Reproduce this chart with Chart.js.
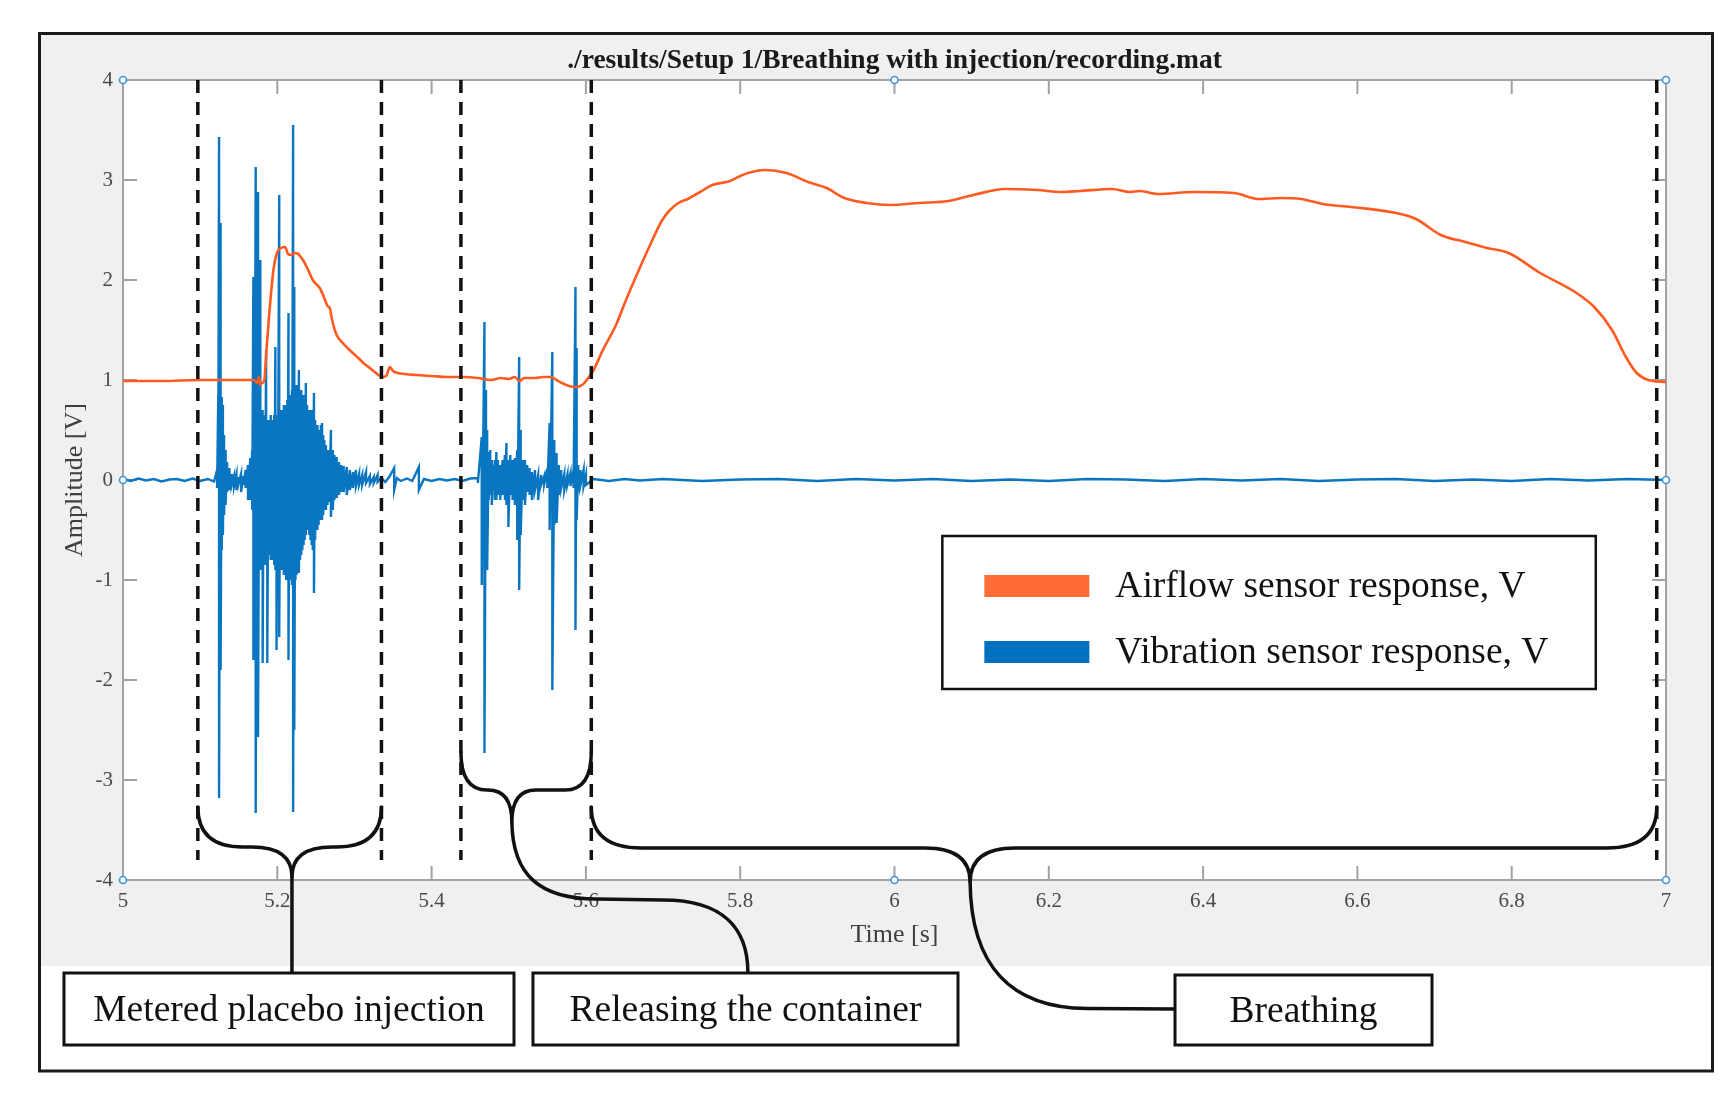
<!DOCTYPE html>
<html>
<head>
<meta charset="utf-8">
<title>recording.mat</title>
<script src="https://cdn.jsdelivr.net/npm/chart.js@4.4.1/dist/chart.umd.min.js"></script>
<style>
  html, body { margin: 0; padding: 0; background: #fff; }
  canvas { display: block; }
</style>
</head>
<body>
<canvas id="myChart" width="1735" height="1102"></canvas>
<script>
// ---- data ----
const titleText = './results/Setup 1/Breathing with injection/recording.mat';
const seriesLabels = ['Airflow sensor response, V', 'Vibration sensor response, V'];

const xTickValues = [5, 5.2, 5.4, 5.6, 5.8, 6, 6.2, 6.4, 6.6, 6.8, 7];
const xTickLabels = ['5', '5.2', '5.4', '5.6', '5.8', '6', '6.2', '6.4', '6.6', '6.8', '7'];
const yTickValues = [-4, -3, -2, -1, 0, 1, 2, 3, 4];
const yTickLabels = ['-4', '-3', '-2', '-1', '0', '1', '2', '3', '4'];

// airflow sensor (orange)
const airTime = [
  5.000, 5.050, 5.100, 5.150, 5.170, 5.174, 5.176, 5.178, 5.180, 5.183,
  5.186, 5.190, 5.195, 5.200, 5.205, 5.210, 5.214, 5.218, 5.222, 5.227,
  5.234, 5.240, 5.246, 5.255, 5.262, 5.265, 5.268, 5.271, 5.277, 5.286,
  5.295, 5.305, 5.313, 5.320, 5.328, 5.336, 5.341, 5.346, 5.350, 5.356,
  5.365, 5.380, 5.400, 5.420, 5.440, 5.460, 5.477, 5.490, 5.500, 5.508,
  5.514, 5.520, 5.534, 5.545, 5.555, 5.562, 5.569, 5.578, 5.587, 5.595,
  5.603, 5.610, 5.622, 5.639, 5.652, 5.663, 5.682, 5.699, 5.709, 5.720,
  5.732, 5.748, 5.764, 5.787, 5.800, 5.810, 5.832, 5.860, 5.888, 5.912,
  5.935, 5.964, 5.995, 6.032, 6.070, 6.102, 6.143, 6.185, 6.217, 6.240,
  6.282, 6.305, 6.317, 6.342, 6.388, 6.440, 6.472, 6.500, 6.527, 6.555,
  6.592, 6.643, 6.676, 6.708, 6.740, 6.768, 6.796, 6.837, 6.884, 6.907,
  6.930, 6.948, 6.962, 6.977, 7.000
];
const airValue = [
  0.99, 0.99, 1.00, 1.00, 1.00, 0.97, 1.03, 0.95, 0.97, 0.99,
  1.30, 1.70, 2.10, 2.28, 2.32, 2.33, 2.26, 2.25, 2.27, 2.26,
  2.19, 2.10, 2.00, 1.92, 1.80, 1.74, 1.72, 1.60, 1.45, 1.36,
  1.29, 1.22, 1.16, 1.12, 1.07, 1.03, 1.04, 1.13, 1.09, 1.07,
  1.06, 1.05, 1.04, 1.03, 1.03, 1.02, 1.00, 1.02, 1.01, 1.03,
  0.99, 1.02, 1.02, 1.03, 1.03, 1.00, 0.97, 0.94, 0.93, 0.95,
  1.02, 1.10, 1.30, 1.55, 1.80, 2.00, 2.33, 2.60, 2.70, 2.77,
  2.81, 2.88, 2.95, 2.99, 3.04, 3.07, 3.10, 3.07, 2.98, 2.92,
  2.82, 2.77, 2.75, 2.77, 2.79, 2.85, 2.91, 2.90, 2.88, 2.89,
  2.91, 2.88, 2.89, 2.86, 2.88, 2.87, 2.81, 2.82, 2.81, 2.76,
  2.73, 2.68, 2.61, 2.45, 2.38, 2.32, 2.27, 2.07, 1.87, 1.73,
  1.50, 1.23, 1.07, 1.00, 0.98
];

// vibration sensor (blue): at each time the upper and lower excursion
// (a quiet sample has the same value in both)
const vibTime = [
  5.000, 5.010, 5.020, 5.030, 5.040, 5.050, 5.060, 5.070, 5.080, 5.090, 5.100, 5.110, 5.118,
  5.122, 5.1235, 5.1245, 5.1265, 5.128, 5.1295, 5.131, 5.133, 5.135, 5.138,
  5.141, 5.144, 5.147, 5.150, 5.153, 5.156, 5.159, 5.162, 5.165, 5.1675,
  5.169, 5.1705, 5.172, 5.1735, 5.175, 5.1765, 5.178, 5.1795, 5.181, 5.1825,
  5.184, 5.1855, 5.187, 5.1885, 5.190, 5.1915, 5.193, 5.1945, 5.196, 5.1975,
  5.199, 5.2005, 5.2025, 5.204, 5.2055, 5.207, 5.2085, 5.210, 5.2115, 5.213,
  5.2145, 5.216, 5.2175, 5.219, 5.2205, 5.222, 5.2235, 5.225, 5.2265, 5.228,
  5.2295, 5.231, 5.2325, 5.234, 5.2355, 5.237, 5.2385, 5.240, 5.2415, 5.243,
  5.2445, 5.246, 5.2475, 5.249, 5.2505, 5.252, 5.2535, 5.255, 5.2565, 5.258,
  5.2595, 5.261, 5.263, 5.265, 5.267, 5.2695, 5.272, 5.274, 5.277, 5.280,
  5.283, 5.286, 5.290, 5.294, 5.298, 5.302, 5.306, 5.310, 5.315, 5.320,
  5.325, 5.330,
  5.335, 5.340, 5.345, 5.3515, 5.355, 5.360, 5.368, 5.375, 5.3835, 5.390,
  5.400, 5.410, 5.420, 5.430, 5.440, 5.450, 5.460,
  5.465, 5.4685, 5.4705, 5.472, 5.474, 5.476, 5.478, 5.480, 5.482, 5.484,
  5.486, 5.489, 5.492, 5.495, 5.497, 5.4995, 5.502, 5.505, 5.508, 5.511,
  5.5135, 5.5155, 5.518, 5.521, 5.524, 5.527, 5.530, 5.534, 5.538, 5.542,
  5.546, 5.550, 5.553, 5.5565, 5.559, 5.562, 5.565, 5.568, 5.572, 5.576,
  5.580, 5.584, 5.5865, 5.588, 5.590, 5.593, 5.597, 5.600, 5.610,
  5.630, 5.650, 5.670, 5.700, 5.750, 5.800, 5.850, 5.900, 5.950, 6.000,
  6.050, 6.100, 6.150, 6.200, 6.250, 6.300, 6.350, 6.400, 6.450, 6.500,
  6.550, 6.600, 6.650, 6.700, 6.750, 6.800, 6.850, 6.900, 6.950, 7.000
];
const vibHigh = [
  0.01, -0.01, 0.015, -0.005, 0.01, -0.015, 0.005, 0.01, -0.01, 0.015, -0.01, 0.01, -0.015,
  0.10, 0.85, 3.43, 2.57, 0.83, 0.75, 0.45, 0.30, 0.18, 0.12,
  0.06, 0.04, 0.05, 0.03, 0.06, 0.04, 0.10, 0.15, 0.22, 0.30,
  2.03, 0.60, 3.13, 0.70, 2.88, 0.60, 2.20, 0.60, 0.70, 0.60,
  0.65, 1.30, 0.60, 0.55, 0.60, 0.65, 0.60, 0.55, 0.65, 1.33,
  0.60, 0.65, 2.85, 0.70, 0.65, 0.70, 0.75, 0.70, 0.75, 0.80,
  1.67, 0.85, 0.80, 0.90, 3.55, 1.93, 0.95, 0.90, 0.95, 1.10,
  0.85, 0.90, 0.85, 0.80, 0.85, 0.97, 0.75, 0.70, 0.65, 0.70,
  0.65, 0.70, 0.87, 0.60, 0.55, 0.55, 0.50, 0.50, 0.55, 0.57,
  0.45, 0.40, 0.35, 0.30, 0.30, 0.50, 0.30, 0.25, 0.23, 0.18,
  0.15, 0.14, 0.13, 0.10, 0.08, 0.10, 0.06, 0.05, 0.08, 0.04,
  0.03, 0.05,
  0.02, -0.02, 0.03, 0.12, 0.02, -0.01, 0.015, -0.01, 0.13, 0.01,
  -0.01, 0.01, -0.005, 0.01, -0.01, 0.015, 0.02,
  0.43, 1.58, 0.90, 0.50, 0.28, 0.30, 0.20, 0.15, 0.20, 0.28,
  0.20, 0.15, 0.20, 0.25, 0.37, 0.20, 0.25, 0.20, 0.22, 0.30,
  1.23, 0.50, 0.20, 0.20, 0.15, 0.12, 0.08, 0.10, 0.05, 0.05,
  0.04, 0.10, 0.57, 1.28, 0.40, 0.27, 0.15, 0.10, 0.06, 0.05,
  0.07, 0.10, 1.93, 1.32, 0.15, 0.10, 0.10, 0.05, 0.01,
  -0.01, 0.01, -0.005, 0.01, -0.01, 0.005, 0.01, -0.01, 0.01, -0.005,
  0.01, -0.01, 0.005, -0.01, 0.01, 0.005, -0.01, 0.01, -0.005, 0.01,
  -0.01, 0.005, 0.01, -0.01, 0.005, -0.01, 0.01, -0.005, 0.01, 0.00
];
const vibLow = [
  0.01, -0.01, 0.015, -0.005, 0.01, -0.015, 0.005, 0.01, -0.01, 0.015, -0.01, 0.01, -0.015,
  -0.08, -0.05, -3.18, -1.90, -0.70, -0.55, -0.35, -0.25, -0.12, -0.10,
  -0.05, -0.06, -0.10, -0.03, -0.12, -0.05, -0.08, -0.20, -0.20, -0.30,
  -1.80, -0.70, -3.33, -0.80, -2.57, -0.70, -0.90, -0.80, -1.83, -0.80,
  -0.85, -0.70, -1.83, -0.75, -0.70, -0.80, -0.75, -0.80, -0.85, -0.90,
  -1.70, -0.85, -1.57, -0.90, -0.85, -0.90, -0.95, -0.90, -1.00, -0.95,
  -1.80, -1.00, -1.00, -1.05, -3.32, -2.50, -1.00, -0.95, -0.90, -0.93,
  -0.80, -0.75, -0.70, -0.65, -0.60, -0.55, -0.45, -0.50, -0.55, -0.60,
  -0.65, -0.70, -1.13, -0.60, -0.50, -0.50, -0.45, -0.40, -0.40, -0.40,
  -0.35, -0.30, -0.30, -0.25, -0.22, -0.37, -0.30, -0.20, -0.18, -0.15,
  -0.12, -0.12, -0.15, -0.10, -0.08, -0.06, -0.05, -0.05, -0.03, -0.04,
  -0.03, -0.02,
  0.02, -0.02, 0.03, -0.10, 0.02, -0.01, 0.015, -0.01, -0.10, 0.01,
  -0.01, 0.01, -0.005, 0.01, -0.01, 0.015, -0.03,
  -1.05, -2.73, -0.80, -0.90, -0.20, -0.15, -0.25, -0.10, -0.20, -0.20,
  -0.15, -0.20, -0.15, -0.20, -0.25, -0.47, -0.15, -0.20, -0.25, -0.60,
  -1.10, -0.55, -0.20, -0.25, -0.12, -0.15, -0.20, -0.10, -0.20, -0.05,
  -0.04, -0.08, -0.50, -2.10, -0.45, -0.43, -0.15, -0.08, -0.10, -0.05,
  -0.06, -0.08, -1.50, -0.40, -0.12, -0.05, -0.06, -0.05, 0.01,
  -0.01, 0.01, -0.005, 0.01, -0.01, 0.005, 0.01, -0.01, 0.01, -0.005,
  0.01, -0.01, 0.005, -0.01, 0.01, 0.005, -0.01, 0.01, -0.005, 0.01,
  -0.01, 0.005, 0.01, -0.01, 0.005, -0.01, 0.01, -0.005, 0.01, 0.00
];

// dashed event markers (time) and how far down they reach
const eventTimes = [5.097, 5.335, 5.438, 5.607, 6.988];
const eventTop = 4;
const eventBottom = -3.8;

// the little blue axis handles
const handleX = [5, 6, 7, 5, 7, 5, 6, 7];
const handleY = [4, 4, 4, 0, 0, -4, -4, -4];

// braces, in data units
const braces = [
  { x0: 5.097, x1: 5.335, xm: 5.219, yEnd: -3.27, yFlat: -3.67, yTip: -3.97, rEnd: 45, rMid: 40 },
  { x0: 5.438, x1: 5.607, xm: 5.504, yEnd: -2.72, yFlat: -3.10, yTip: -3.42, rEnd: 26, rMid: 24 },
  { x0: 5.607, x1: 6.988, xm: 6.098, yEnd: -3.27, yFlat: -3.68, yTip: -4.02, rEnd: 50, rMid: 45 }
];
const labelBoxes = [
  { text: 'Metered placebo injection', x0: 4.9235, x1: 5.5068, y0: -4.93, y1: -5.65 },
  { text: 'Releasing the container', x0: 5.5314, x1: 6.0823, y0: -4.93, y1: -5.65 },
  { text: 'Breathing', x0: 6.3636, x1: 6.6967, y0: -4.95, y1: -5.65 }
];
const legendBox = { x0: 6.062, x1: 6.909, y0: -0.56, y1: -2.09 };

// ---- styles ----
const serif = "'Liberation Serif', 'Times New Roman', serif";
const orange = '#ff5b21';
const blue = '#0a76c2';
const legendColors = ['#ff6c37', '#0070c0'];
const axisColor = '#a2a2a2';
const tickLen = 14;

function airPoints() {
  return airTime.map((t, i) => ({ x: t, y: airValue[i] }));
}
function vibPoints() {
  const pts = [];
  vibTime.forEach((t, i) => {
    pts.push({ x: t, y: vibHigh[i] });
    if (vibLow[i] !== vibHigh[i]) pts.push({ x: t, y: vibLow[i] });
  });
  return pts;
}

const eventSets = eventTimes.map(t => ({
  label: 'event',
  data: [{ x: t, y: eventTop }, { x: t, y: eventBottom }],
  borderColor: '#111111',
  borderWidth: 3.5,
  borderDash: [13, 9],
  pointRadius: 0,
  fill: false
}));

const decorations = {
  id: 'decorations',
  beforeDraw(chart) {
    const { ctx, width, height, chartArea: a } = chart;
    ctx.save();
    ctx.fillStyle = '#ffffff';
    ctx.fillRect(0, 0, width, height);
    ctx.fillStyle = '#f0f0f0';
    ctx.fillRect(41, 35, 1671, 931);
    ctx.fillStyle = '#ffffff';
    ctx.fillRect(a.left, a.top, a.right - a.left, a.bottom - a.top);
    ctx.restore();
  },
  beforeDatasetsDraw(chart) {
    const { ctx, chartArea: a, scales } = chart;
    ctx.save();
    ctx.strokeStyle = axisColor;
    ctx.lineWidth = 2;
    ctx.strokeRect(a.left, a.top, a.right - a.left, a.bottom - a.top);
    ctx.beginPath();
    xTickValues.forEach(v => {
      const p = scales.x.getPixelForValue(v);
      ctx.moveTo(p, a.bottom); ctx.lineTo(p, a.bottom - tickLen);
      ctx.moveTo(p, a.top); ctx.lineTo(p, a.top + tickLen);
    });
    yTickValues.forEach(v => {
      const p = scales.y.getPixelForValue(v);
      ctx.moveTo(a.left, p); ctx.lineTo(a.left + tickLen, p);
      ctx.moveTo(a.right, p); ctx.lineTo(a.right - tickLen, p);
    });
    ctx.stroke();
    ctx.restore();
  },
  afterDatasetsDraw(chart) {
    const { ctx, scales } = chart;
    const X = v => scales.x.getPixelForValue(v);
    const Y = v => scales.y.getPixelForValue(v);
    ctx.save();
    ctx.strokeStyle = '#111111';
    ctx.lineWidth = 3.5;
    ctx.lineCap = 'round';
    ctx.lineJoin = 'round';
    braces.forEach(b => {
      const x0 = X(b.x0), x1 = X(b.x1), xm = X(b.xm);
      const ye = Y(b.yEnd), yf = Y(b.yFlat), yt = Y(b.yTip);
      ctx.beginPath();
      ctx.moveTo(x0, ye);
      ctx.quadraticCurveTo(x0, yf, x0 + b.rEnd, yf);
      ctx.lineTo(xm - b.rMid, yf);
      ctx.quadraticCurveTo(xm, yf, xm, yt);
      ctx.moveTo(x1, ye);
      ctx.quadraticCurveTo(x1, yf, x1 - b.rEnd, yf);
      ctx.lineTo(xm + b.rMid, yf);
      ctx.quadraticCurveTo(xm, yf, xm, yt);
      ctx.stroke();
    });
    // leaders from the braces down to their boxes
    ctx.beginPath();
    ctx.moveTo(X(5.219), Y(-3.97));
    ctx.lineTo(X(5.219), Y(-4.93));
    ctx.moveTo(X(5.504), Y(-3.42));
    ctx.bezierCurveTo(X(5.505), Y(-3.95), X(5.54), Y(-4.19), X(5.614), Y(-4.19));
    ctx.lineTo(X(5.70), Y(-4.20));
    ctx.bezierCurveTo(X(5.78), Y(-4.20), X(5.81), Y(-4.5), X(5.81), Y(-4.93));
    ctx.moveTo(X(6.098), Y(-4.02));
    ctx.bezierCurveTo(X(6.099), Y(-4.85), X(6.15), Y(-5.28), X(6.25), Y(-5.285));
    ctx.lineTo(X(6.3636), Y(-5.29));
    ctx.stroke();
    ctx.restore();
  },
  afterDraw(chart) {
    const { ctx, scales } = chart;
    const X = v => scales.x.getPixelForValue(v);
    const Y = v => scales.y.getPixelForValue(v);
    ctx.save();
    // legend
    const lx = X(legendBox.x0), ly = Y(legendBox.y0);
    const lw = X(legendBox.x1) - lx, lh = Y(legendBox.y1) - ly;
    ctx.fillStyle = '#ffffff';
    ctx.fillRect(lx, ly, lw, lh);
    ctx.strokeStyle = '#111111';
    ctx.lineWidth = 2.5;
    ctx.strokeRect(lx, ly, lw, lh);
    ctx.font = '37.5px ' + serif;
    ctx.textAlign = 'left';
    ctx.textBaseline = 'middle';
    seriesLabels.forEach((label, i) => {
      const cy = ly + 50 + i * 66;
      ctx.fillStyle = legendColors[i];
      ctx.fillRect(lx + 42, cy - 11, 105, 22);
      ctx.fillStyle = '#111111';
      ctx.fillText(label, lx + 173, cy + 1);
    });
    // label boxes
    ctx.lineWidth = 3;
    ctx.textAlign = 'center';
    labelBoxes.forEach(b => {
      const bx = X(b.x0), by = Y(b.y0);
      const bw = X(b.x1) - bx, bh = Y(b.y1) - by;
      ctx.fillStyle = '#ffffff';
      ctx.fillRect(bx, by, bw, bh);
      ctx.strokeRect(bx, by, bw, bh);
      ctx.fillStyle = '#111111';
      ctx.fillText(b.text, bx + bw / 2, by + bh / 2 + 2);
    });
    // outer frame
    ctx.strokeStyle = '#1a1a1a';
    ctx.lineWidth = 3;
    ctx.strokeRect(39.5, 33.5, 1673, 1037.5);
    ctx.restore();
  }
};

var ctx = document.getElementById('myChart');
var myChart = new Chart(ctx, {
  type: 'line',
  data: {
    datasets: [
      ...eventSets,
      {
        label: seriesLabels[0],
        data: airPoints(),
        borderColor: orange,
        borderWidth: 2.6,
        pointRadius: 0,
        cubicInterpolationMode: 'monotone',
        fill: false
      },
      {
        label: seriesLabels[1],
        data: vibPoints(),
        borderColor: blue,
        borderWidth: 2.4,
        pointRadius: 0,
        tension: 0,
        fill: false
      },
      {
        label: 'handles',
        data: handleX.map((v, i) => ({ x: v, y: handleY[i] })),
        showLine: false,
        pointRadius: 3.5,
        pointBorderWidth: 1.6,
        pointBorderColor: '#3a98d8',
        pointBackgroundColor: '#ffffff',
        clip: false,
        order: -1
      }
    ]
  },
  options: {
    responsive: false,
    animation: false,
    devicePixelRatio: 1,
    events: [],
    layout: { padding: { left: 0, right: 69, top: 0, bottom: 142 } },
    plugins: {
      legend: { display: false },
      tooltip: { enabled: false },
      title: {
        display: true,
        fullSize: false,
        text: titleText,
        color: '#1a1a1a',
        font: { family: serif, size: 27.5, weight: 'bold', lineHeight: 1.2 },
        padding: { top: 44.5, bottom: 2.5 }
      }
    },
    scales: {
      x: {
        type: 'linear',
        min: 5,
        max: 7,
        afterBuildTicks: scale => { scale.ticks = xTickValues.map(v => ({ value: v })); },
        afterFit: scale => { scale.height = 80; },
        grid: { display: false, drawTicks: false },
        border: { display: false },
        ticks: {
          autoSkip: false,
          maxRotation: 0,
          padding: 8.4,
          color: '#4a4a4a',
          font: { family: serif, size: 21, lineHeight: 1.2 },
          callback: (value, index) => xTickLabels[index]
        },
        title: {
          display: true,
          text: 'Time [s]',
          color: '#404040',
          font: { family: serif, size: 26, lineHeight: 1.2 },
          padding: { top: 0, bottom: 9.4 }
        }
      },
      y: {
        type: 'linear',
        min: -4,
        max: 4,
        afterBuildTicks: scale => { scale.ticks = yTickValues.map(v => ({ value: v })); },
        afterFit: scale => { scale.width = 123; },
        grid: { display: false, drawTicks: false },
        border: { display: false },
        ticks: {
          autoSkip: false,
          padding: 10,
          color: '#4a4a4a',
          font: { family: serif, size: 21, lineHeight: 1.2 },
          callback: (value, index) => yTickLabels[index]
        },
        title: {
          display: true,
          text: 'Amplitude [V]',
          color: '#404040',
          font: { family: serif, size: 26, lineHeight: 1.2 },
          padding: { top: 59.4, bottom: 0 }
        }
      }
    }
  },
  plugins: [decorations]
});
</script>
</body>
</html>
